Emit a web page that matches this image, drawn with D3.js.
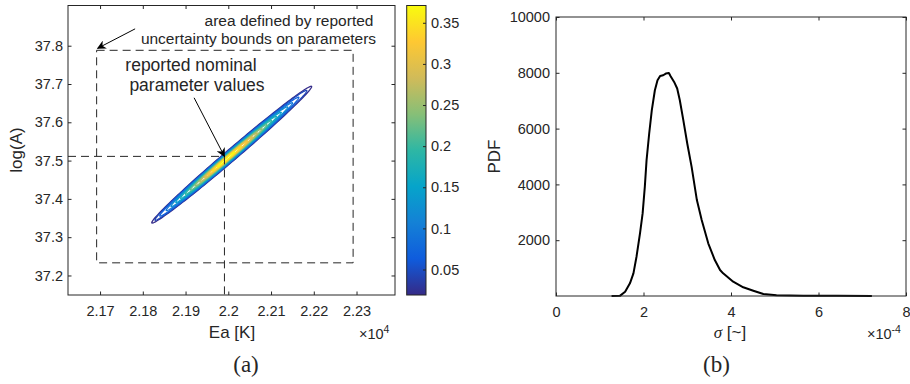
<!DOCTYPE html>
<html>
<head>
<meta charset="utf-8">
<script src="https://cdn.jsdelivr.net/npm/d3@7"></script>
<style>
  body { margin: 0; background: #fff; }
  text { font-family: "Liberation Sans", Arial, sans-serif; fill: #262626; }
</style>
</head>
<body>
<svg id="fig" width="910" height="384"></svg>
<script>
// ---- panel (a): joint density of Ea and log(A) ----
const eaTicks = [21700, 21800, 21900, 22000, 22100, 22200, 22300];
const logATicks = [37.2, 37.3, 37.4, 37.5, 37.6, 37.7, 37.8];
const cbTicks = [0.05, 0.1, 0.15, 0.2, 0.25, 0.3, 0.35];
const cbRange = [0.019, 0.371];

// ridge of the density (lower-left end, upper-right end)
const ridgeStart = [21821, 37.338];
const ridgeEnd = [22195, 37.693];

// contour rings: level, extent along the ridge (fraction), half thickness in log(A)
const ringLevel = [0.02, 0.045, 0.07, 0.095, 0.12, 0.145, 0.17, 0.195, 0.22, 0.245, 0.27, 0.295, 0.32, 0.345, 0.365];
const ringStart = [0.0, 0.02, 0.05, 0.09, 0.12, 0.15, 0.18, 0.21, 0.24, 0.27, 0.30, 0.33, 0.35, 0.38, 0.41];
const ringEnd = [1.0, 0.97, 0.92, 0.88, 0.85, 0.81, 0.78, 0.75, 0.72, 0.69, 0.66, 0.63, 0.60, 0.56, 0.52];
const ringHalf = [0.0195, 0.018, 0.0165, 0.015, 0.0138, 0.0126, 0.0114, 0.0103, 0.0092, 0.0081, 0.0071, 0.006, 0.005, 0.004, 0.003];

const boundsEa = [21692, 22292];
const boundsLogA = [37.233, 37.788];
const nominal = [21991, 37.511];

// ---- panel (b): PDF of sigma (x1e-4) ----
const sigma = [1.27, 1.46, 1.58, 1.69, 1.77, 1.84, 1.92, 1.98, 2.03, 2.07, 2.13, 2.19, 2.26, 2.32, 2.38, 2.45, 2.51, 2.58, 2.62, 2.70, 2.77, 2.83, 2.91, 3.00, 3.10, 3.22, 3.33, 3.48, 3.63, 3.75, 3.82, 4.05, 4.28, 4.51, 4.74, 5.04, 5.65, 6.42, 7.22];
const pdf = [0, 5, 154, 455, 813, 1407, 2245, 2960, 3913, 4869, 5825, 6659, 7375, 7733, 7887, 7912, 7973, 7994, 7876, 7672, 7436, 7017, 6301, 5467, 4629, 3437, 2721, 1887, 1289, 931, 813, 512, 311, 190, 72, 30, 12, 5, 0];
const sigmaTicks = [0, 2, 4, 6, 8];
const pdfTicks = [2000, 4000, 6000, 8000, 10000];

const parula = ["#352a87", "#0f5cdd", "#1481d6", "#06a4ca", "#2eb7a4", "#87bf77", "#d1bb59", "#fec832", "#f9fb0e"];
const ink = "#262626";
const serif = "'Liberation Serif', 'Times New Roman', serif";

const svg = d3.select("#fig");
svg.append("rect").attr("width", 910).attr("height", 384).attr("fill", "#fff");

const defs = svg.append("defs");
defs.append("marker")
  .attr("id", "head").attr("viewBox", "0 0 10 10")
  .attr("refX", 9).attr("refY", 5)
  .attr("markerWidth", 9).attr("markerHeight", 9)
  .attr("markerUnits", "userSpaceOnUse")
  .attr("orient", "auto")
  .append("path").attr("d", "M0,0 L10,5 L0,10 L3,5 Z").attr("fill", "#000");

function styleAxis(g, fs) {
  g.attr("font-family", null).attr("font-size", fs);
  g.select(".domain").remove();
  g.selectAll(".tick line").attr("stroke", ink);
  g.selectAll(".tick text").attr("fill", ink);
}

// ================= panel (a) =================
const xa = d3.scaleLinear().domain([21625, 22390]).range([68, 395]);
const ya = d3.scaleLinear().domain([37.149, 37.905]).range([295, 5.5]);
const ga = svg.append("g");

const cScale = d3.scaleLinear()
  .domain(parula.map((_, i) => cbRange[0] + i * (cbRange[1] - cbRange[0]) / (parula.length - 1)))
  .range(parula);

// contour rings
const ringLine = d3.line().x(d => xa(d[0])).y(d => ya(d[1])).curve(d3.curveLinearClosed);
ringLevel.forEach((lv, i) => {
  const mid = (ringStart[i] + ringEnd[i]) / 2, half = (ringEnd[i] - ringStart[i]) / 2;
  const pts = d3.range(0, 2 * Math.PI, Math.PI / 80).map(th => {
    const t = mid + half * Math.cos(th);
    return [ridgeStart[0] + t * (ridgeEnd[0] - ridgeStart[0]),
            ridgeStart[1] + t * (ridgeEnd[1] - ridgeStart[1]) + ringHalf[i] * Math.sin(th)];
  });
  ga.append("path").attr("d", ringLine(pts))
    .attr("fill", "none").attr("stroke", cScale(lv)).attr("stroke-width", 1.3);
});

// dashed bounds and nominal guides
const dash = "8,5";
ga.append("rect")
  .attr("x", xa(boundsEa[0])).attr("y", ya(boundsLogA[1]))
  .attr("width", xa(boundsEa[1]) - xa(boundsEa[0]))
  .attr("height", ya(boundsLogA[0]) - ya(boundsLogA[1]))
  .attr("fill", "none").attr("stroke", ink).attr("stroke-dasharray", dash);
ga.append("line")
  .attr("x1", xa.range()[0]).attr("x2", xa(nominal[0]))
  .attr("y1", ya(nominal[1])).attr("y2", ya(nominal[1]))
  .attr("stroke", ink).attr("stroke-dasharray", dash);
ga.append("line")
  .attr("x1", xa(nominal[0])).attr("x2", xa(nominal[0]))
  .attr("y1", ya(nominal[1])).attr("y2", ya.range()[0])
  .attr("stroke", ink).attr("stroke-dasharray", dash);

// axes (a)
ga.append("g").attr("transform", `translate(0,${ya.range()[0]})`)
  .call(d3.axisBottom(xa).tickValues(eaTicks).tickSize(-3.5).tickSizeOuter(0).tickPadding(11)
    .tickFormat(d => String(+(d / 1e4).toFixed(2))))
  .call(g => styleAxis(g, 14.5));
ga.append("g").attr("transform", `translate(0,${ya.range()[1]})`)
  .call(d3.axisTop(xa).tickValues(eaTicks).tickSize(-3.5).tickSizeOuter(0).tickFormat(""))
  .call(g => styleAxis(g, 14.5));
ga.append("g").attr("transform", `translate(${xa.range()[0]},0)`)
  .call(d3.axisLeft(ya).tickValues(logATicks).tickSize(-3.5).tickSizeOuter(0).tickPadding(5)
    .tickFormat(d3.format(".1f")))
  .call(g => styleAxis(g, 14.5));
ga.append("g").attr("transform", `translate(${xa.range()[1]},0)`)
  .call(d3.axisRight(ya).tickValues(logATicks).tickSize(-3.5).tickSizeOuter(0).tickFormat(""))
  .call(g => styleAxis(g, 14.5));
ga.append("rect")
  .attr("x", xa.range()[0]).attr("y", ya.range()[1])
  .attr("width", xa.range()[1] - xa.range()[0]).attr("height", ya.range()[0] - ya.range()[1])
  .attr("fill", "none").attr("stroke", ink);

ga.append("text").attr("x", 232).attr("y", 338).attr("text-anchor", "middle")
  .attr("font-size", 17).text("Ea [K]");
ga.append("text").attr("transform", "translate(22,150) rotate(-90)").attr("text-anchor", "middle")
  .attr("font-size", 17).text("log(A)");
const ea10 = ga.append("text").attr("x", 359).attr("y", 339).attr("font-size", 14.5);
ea10.append("tspan").text("\u00d710");
ea10.append("tspan").attr("dy", -6).attr("font-size", 10.5).text("4");

// annotations
ga.append("text").attr("x", 289).attr("y", 25.5).attr("text-anchor", "middle")
  .attr("font-size", 15.5).text("area defined by reported");
ga.append("text").attr("x", 258.5).attr("y", 44).attr("text-anchor", "middle")
  .attr("font-size", 15.5).text("uncertainty bounds on parameters");
ga.append("text").attr("x", 191).attr("y", 70.5).attr("text-anchor", "middle")
  .attr("font-size", 17.5).text("reported nominal");
ga.append("text").attr("x", 197).attr("y", 90.5).attr("text-anchor", "middle")
  .attr("font-size", 17.5).text("parameter values");
ga.append("line")
  .attr("x1", xa(21782)).attr("y1", ya(37.844))
  .attr("x2", xa(boundsEa[0]) + 1).attr("y2", ya(boundsLogA[1]) - 2)
  .attr("stroke", "#000").attr("marker-end", "url(#head)");
ga.append("line")
  .attr("x1", xa(21920)).attr("y1", ya(37.664))
  .attr("x2", xa(nominal[0])).attr("y2", ya(nominal[1]))
  .attr("stroke", "#000").attr("marker-end", "url(#head)");

ga.append("text").attr("x", 246).attr("y", 372).attr("text-anchor", "middle")
  .style("font-family", serif).attr("font-size", 23).text("(a)");

// colorbar
const yc = d3.scaleLinear().domain(cbRange).range([295, 5.5]);
const grad = defs.append("linearGradient").attr("id", "parula")
  .attr("x1", 0).attr("y1", 1).attr("x2", 0).attr("y2", 0);
parula.forEach((c, i) => grad.append("stop").attr("offset", i / (parula.length - 1)).attr("stop-color", c));
const cbX = [406.7, 426];
ga.append("rect").attr("x", cbX[0]).attr("y", yc.range()[1])
  .attr("width", cbX[1] - cbX[0]).attr("height", yc.range()[0] - yc.range()[1])
  .attr("fill", "url(#parula)").attr("stroke", ink);
ga.append("g").attr("transform", `translate(${cbX[1]},0)`)
  .call(d3.axisRight(yc).tickValues(cbTicks).tickSize(-3).tickSizeOuter(0).tickPadding(5)
    .tickFormat(d => String(d)))
  .call(g => styleAxis(g, 14.5));

// ================= panel (b) =================
const xb = d3.scaleLinear().domain([0, 8]).range([556, 906]);
const yb = d3.scaleLinear().domain([0, 10000]).range([296, 17]);
const gb = svg.append("g");

gb.append("g").attr("transform", `translate(0,${yb.range()[0]})`)
  .call(d3.axisBottom(xb).tickValues(sigmaTicks).tickSize(-3.5).tickSizeOuter(0).tickPadding(11)
    .tickFormat(d3.format("d")))
  .call(g => styleAxis(g, 14.5));
gb.append("g").attr("transform", `translate(0,${yb.range()[1]})`)
  .call(d3.axisTop(xb).tickValues(sigmaTicks).tickSize(-3.5).tickSizeOuter(0).tickFormat(""))
  .call(g => styleAxis(g, 14.5));
gb.append("g").attr("transform", `translate(${xb.range()[0]},0)`)
  .call(d3.axisLeft(yb).tickValues(pdfTicks).tickSize(-3.5).tickSizeOuter(0).tickPadding(6)
    .tickFormat(d3.format("d")))
  .call(g => styleAxis(g, 14.5));
gb.append("g").attr("transform", `translate(${xb.range()[1]},0)`)
  .call(d3.axisRight(yb).tickValues(pdfTicks).tickSize(-3.5).tickSizeOuter(0).tickFormat(""))
  .call(g => styleAxis(g, 14.5));

gb.append("path")
  .attr("d", d3.line().x((d, i) => xb(sigma[i])).y(d => yb(d))(pdf))
  .attr("fill", "none").attr("stroke", "#000").attr("stroke-width", 2)
  .attr("stroke-linejoin", "round");

gb.append("rect")
  .attr("x", xb.range()[0]).attr("y", yb.range()[1])
  .attr("width", xb.range()[1] - xb.range()[0]).attr("height", yb.range()[0] - yb.range()[1])
  .attr("fill", "none").attr("stroke", ink);

const sl = gb.append("text").attr("x", 730).attr("y", 338).attr("text-anchor", "middle").attr("font-size", 17);
sl.append("tspan").style("font-family", serif).style("font-style", "italic").text("\u03c3");
sl.append("tspan").text(" [~]");
gb.append("text").attr("transform", "translate(500,156.5) rotate(-90)").attr("text-anchor", "middle")
  .attr("font-size", 17).text("PDF");
const s10 = gb.append("text").attr("x", 867).attr("y", 339).attr("font-size", 14.5);
s10.append("tspan").text("\u00d710");
s10.append("tspan").attr("dy", -6).attr("font-size", 10.5).text("-4");

gb.append("text").attr("x", 716.5).attr("y", 372).attr("text-anchor", "middle")
  .style("font-family", serif).attr("font-size", 23).text("(b)");
</script>
</body>
</html>
